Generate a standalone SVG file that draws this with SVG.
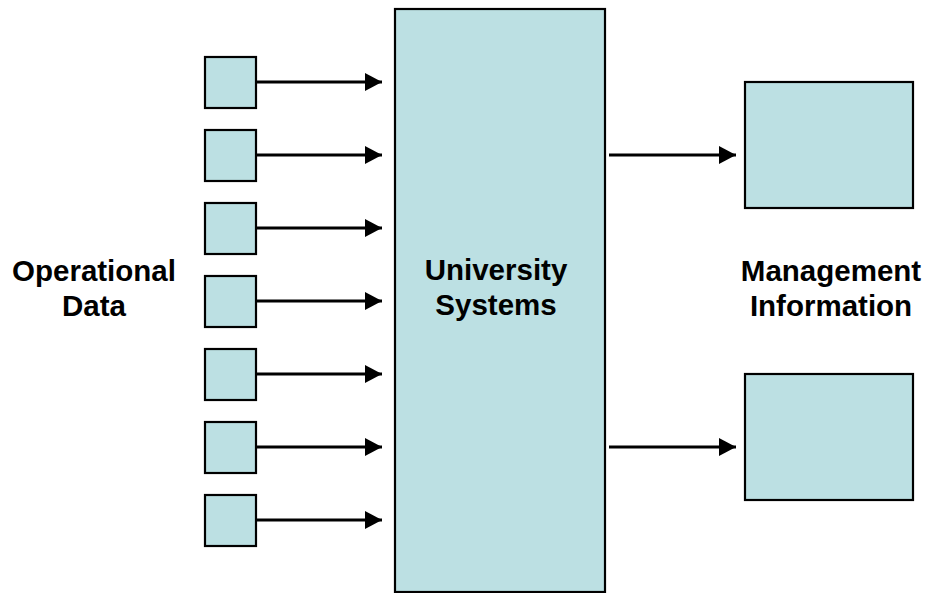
<svg xmlns="http://www.w3.org/2000/svg" width="926" height="593" viewBox="0 0 926 593">
<style>
.box{fill:#bce0e3;stroke:#000;stroke-width:2.2}
.conn line{stroke:#000;stroke-width:2.8}
text{font-family:"Liberation Sans",Arial,sans-serif;font-weight:bold;font-size:29.5px;text-anchor:middle;fill:#000}
</style>
<defs>
<marker id="arr" markerUnits="userSpaceOnUse" markerWidth="18" markerHeight="18" refX="17" refY="9" orient="auto">
<path d="M0,0 L17,9 L0,18 Z" fill="#000"/>
</marker>
</defs>
<rect width="926" height="593" fill="#fff"/>
<g id="src1"><rect class="box" x="205" y="57" width="51" height="51"/></g>
<g id="src2"><rect class="box" x="205" y="130" width="51" height="51"/></g>
<g id="src3"><rect class="box" x="205" y="203" width="51" height="51"/></g>
<g id="src4"><rect class="box" x="205" y="276" width="51" height="51"/></g>
<g id="src5"><rect class="box" x="205" y="349" width="51" height="51"/></g>
<g id="src6"><rect class="box" x="205" y="422" width="51" height="51"/></g>
<g id="src7"><rect class="box" x="205" y="495" width="51" height="51"/></g>
<g id="univ"><rect class="box" x="395" y="9" width="210" height="583"/>
<text x="496" y="280">University</text><text x="496" y="315">Systems</text></g>
<g id="mi1"><rect class="box" x="745" y="82" width="168" height="126"/></g>
<g id="mi2"><rect class="box" x="745" y="374" width="168" height="126"/></g>
<g id="opdata"><text x="94" y="281">Operational</text><text x="94" y="316">Data</text></g>
<g id="mgmt"><text x="831" y="281">Management</text><text x="831" y="316">Information</text></g>
<g class="conn">
<line x1="256" y1="82" x2="382" y2="82" marker-end="url(#arr)"/>
<line x1="256" y1="155" x2="382" y2="155" marker-end="url(#arr)"/>
<line x1="256" y1="228" x2="382" y2="228" marker-end="url(#arr)"/>
<line x1="256" y1="301" x2="382" y2="301" marker-end="url(#arr)"/>
<line x1="256" y1="374" x2="382" y2="374" marker-end="url(#arr)"/>
<line x1="256" y1="447" x2="382" y2="447" marker-end="url(#arr)"/>
<line x1="256" y1="520" x2="382" y2="520" marker-end="url(#arr)"/>
<line x1="609" y1="155" x2="736" y2="155" marker-end="url(#arr)"/>
<line x1="609" y1="447" x2="736" y2="447" marker-end="url(#arr)"/>
</g>
</svg>
